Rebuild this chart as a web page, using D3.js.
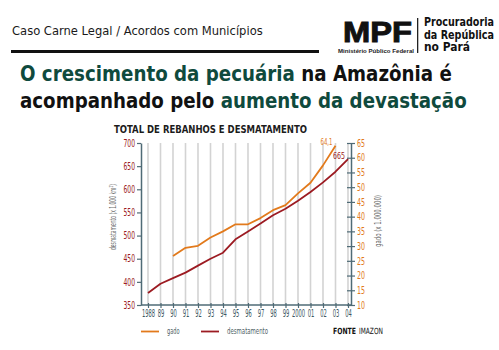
<!DOCTYPE html>
<html><head><meta charset="utf-8">
<script src="https://cdn.jsdelivr.net/npm/d3@7"></script>
<style>
html,body{margin:0;padding:0;background:#fff;}
svg{display:block;}
</style></head>
<body>
<script>
// ---- data ----
const years = [1988,1989,1990,1991,1992,1993,1994,1995,1996,1997,1998,1999,2000,2001,2002,2003,2004];
const yearLabels = ["1988","89","90","91","92","93","94","95","96","97","98","99","2000","01","02","03","04"];
const desmatamento = [376,396,408,420,435,450,463,492,509,526,544,558,575,594,615,638,665];
const gadoYears = [1990,1991,1992,1993,1994,1995,1996,1997,1998,1999,2000,2001,2002,2003];
const gado = [26.6,29.4,30.1,32.9,35.0,37.4,37.4,39.5,42.2,43.9,47.9,51.5,57.4,64.1];
const leftTicks = [350,400,450,500,550,600,650,700];
const rightTicks = [10,15,20,25,30,35,40,45,50,55,60,65];

const W = 499, H = 350;
const ORANGE = "#e27a1c", RED = "#9c1b22", AXIS = "#4f6b76", GREEN = "#0f4a3d";
const COND = "'Liberation Sans Narrow','DejaVu Sans Condensed','Liberation Sans',sans-serif";
const HUM = "'DejaVu Sans','Liberation Sans',sans-serif";
const ARIAL = "'Liberation Sans',Arial,sans-serif";

const svg = d3.select("body").append("svg").attr("width", W).attr("height", H);
svg.append("rect").attr("width", W).attr("height", H).attr("fill", "#fff");

function fitX(sel, x, y, width){ // scale a text horizontally to a target width
  const w = sel.node().getComputedTextLength();
  sel.attr("x", 0).attr("y", 0).attr("transform", `translate(${x},${y}) scale(${width / w},1)`);
  return sel;
}

// ---- header ----
const hdr = svg.append("text").attr("font-family", HUM).attr("font-size", 12).attr("fill", "#1a1a1a")
  .text("Caso Carne Legal / Acordos com Municípios");
fitX(hdr, 12, 35, 251);
svg.append("rect").attr("x", 11).attr("y", 50).attr("width", 308).attr("height", 3).attr("fill", "#111");

const mpf = svg.append("text").attr("font-family", ARIAL).attr("font-weight", "bold").attr("font-size", 30)
  .attr("fill", "#111").attr("stroke", "#111").attr("stroke-width", 1).text("MPF");
fitX(mpf, 343, 41.5, 69);
const mpf2 = svg.append("text").attr("font-family", ARIAL).attr("font-weight", "bold").attr("font-size", 5)
  .attr("fill", "#222").text("Ministério Público Federal");
fitX(mpf2, 338, 52.5, 76);
svg.append("rect").attr("x", 417).attr("y", 18).attr("width", 1.3).attr("height", 35).attr("fill", "#222");
[["Procuradoria", 26, 70], ["da República", 38.5, 70], ["no Pará", 50.5, 46]].forEach(([t, y, w]) => {
  const s = svg.append("text").attr("font-family", HUM).attr("font-weight", "bold").attr("font-size", 11.5)
    .attr("fill", "#111").text(t);
  fitX(s, 424, y, w);
});

// ---- title ----
const t1 = svg.append("text").attr("font-family", HUM).attr("font-weight", "bold").attr("font-size", 20.5);
t1.append("tspan").attr("fill", GREEN).text("O crescimento da pecuária");
t1.append("tspan").attr("fill", "#111").text(" na Amazônia é");
fitX(t1, 20, 81, 432);
const t2 = svg.append("text").attr("font-family", HUM).attr("font-weight", "bold").attr("font-size", 20.5);
t2.append("tspan").attr("fill", "#111").text("acompanhado pelo ");
t2.append("tspan").attr("fill", GREEN).text("aumento da devastação");
fitX(t2, 20, 108, 447);

// ---- chart ----
const x = d3.scaleLinear().domain([1988, 2004]).range([148, 348]);
const yL = d3.scaleLinear().domain([350, 700]).range([305, 143]);
const yR = d3.scaleLinear().domain([10, 65]).range([305, 143]);
const axL = x(1988) - 7, axR = x(2004) + 3;

svg.append("text").attr("font-family", COND).attr("font-weight", "bold").attr("font-size", 10.5)
  .attr("fill", "#1c1c1c").attr("x", 114).attr("y", 133).text("TOTAL DE REBANHOS E DESMATAMENTO")
  .attr("textLength", 193).attr("lengthAdjust", "spacingAndGlyphs");

// gridlines
svg.append("g").selectAll("line").data(years).join("line")
  .attr("x1", d => x(d)).attr("x2", d => x(d)).attr("y1", yL(700)).attr("y2", yL(350))
  .attr("stroke", "#d3d3d3").attr("stroke-width", 1.6);

// left axis
const gL = svg.append("g").attr("transform", `translate(${axL},0)`)
  .call(d3.axisLeft(yL).tickValues(leftTicks).tickSize(4).tickPadding(2).tickSizeOuter(0));
gL.select(".domain").attr("stroke", AXIS).attr("stroke-width", 1.5);
gL.selectAll(".tick line").attr("stroke", AXIS).attr("stroke-width", 1.2);
gL.selectAll(".tick text").attr("fill", RED).attr("font-family", COND).attr("font-size", 10)
  .attr("textLength", 11.5).attr("lengthAdjust", "spacingAndGlyphs");

// right axis
const gR = svg.append("g").attr("transform", `translate(${axR},0)`)
  .call(d3.axisRight(yR).tickValues(rightTicks).tickSize(4).tickPadding(2).tickSizeOuter(0));
gR.select(".domain").attr("stroke", AXIS).attr("stroke-width", 1.5);
gR.selectAll(".tick line").attr("x1", -4).attr("stroke", AXIS).attr("stroke-width", 1.2);
gR.selectAll(".tick text").attr("fill", ORANGE).attr("font-family", COND).attr("font-size", 10)
  .attr("textLength", 8).attr("lengthAdjust", "spacingAndGlyphs");

// bottom axis
const gB = svg.append("g").attr("transform", `translate(0,${yL(350)})`)
  .call(d3.axisBottom(x).tickValues(years).tickFormat((d, i) => yearLabels[i]).tickSize(3).tickPadding(2).tickSizeOuter(0));
gB.select(".domain").remove();
gB.append("line").attr("x1", axL).attr("x2", axR).attr("stroke", AXIS).attr("stroke-width", 1.5);
gB.selectAll(".tick line").attr("y1", -2).attr("stroke", AXIS).attr("stroke-width", 1.2);
gB.selectAll(".tick text").attr("fill", "#3d5762").attr("font-family", COND).attr("font-size", 10)
  .each(function(d, i){
    const w = this.getComputedTextLength();
    d3.select(this).attr("transform", `scale(${(yearLabels[i].length * 3.3) / w},1)`);
  });

// axis titles
svg.append("text").attr("font-family", COND).attr("font-size", 8.5).attr("fill", "#6a6a6a")
  .attr("text-anchor", "middle").attr("transform", "translate(116,217) rotate(-90)")
  .text("desmatamento (x 1.000 km²)").attr("textLength", 66).attr("lengthAdjust", "spacingAndGlyphs");
svg.append("text").attr("font-family", COND).attr("font-size", 8.5).attr("fill", "#6a6a6a")
  .attr("text-anchor", "middle").attr("transform", "translate(381,221) rotate(-90)")
  .text("gado (x 1.000.000)").attr("textLength", 52).attr("lengthAdjust", "spacingAndGlyphs");

// lines
svg.append("path").datum(desmatamento)
  .attr("d", d3.line().x((d, i) => x(years[i])).y(d => yL(d)))
  .attr("fill", "none").attr("stroke", RED).attr("stroke-width", 1.8).attr("stroke-linejoin", "round");
svg.append("path").datum(gado)
  .attr("d", d3.line().x((d, i) => x(gadoYears[i])).y(d => yR(d)))
  .attr("fill", "none").attr("stroke", ORANGE).attr("stroke-width", 1.8).attr("stroke-linejoin", "round");

// end labels
const lastG = gado.length - 1, lastD = desmatamento.length - 1;
svg.append("text").attr("font-family", COND).attr("font-size", 9.5).attr("fill", ORANGE)
  .attr("text-anchor", "end").attr("x", x(gadoYears[lastG]) - 3).attr("y", yR(gado[lastG]) - 1)
  .text(String(gado[lastG]).replace(".", ",")).attr("textLength", 12).attr("lengthAdjust", "spacingAndGlyphs");
svg.append("text").attr("font-family", COND).attr("font-size", 9.5).attr("fill", RED)
  .attr("text-anchor", "end").attr("x", x(years[lastD]) - 3).attr("y", yL(desmatamento[lastD]))
  .text(String(desmatamento[lastD])).attr("textLength", 12).attr("lengthAdjust", "spacingAndGlyphs");

// legend
const leg = [["gado", ORANGE, 141], ["desmatamento", RED, 201]];
leg.forEach(([name, col, lx]) => {
  svg.append("line").attr("x1", lx).attr("x2", lx + 18).attr("y1", 331.5).attr("y2", 331.5)
    .attr("stroke", col).attr("stroke-width", 1.8);
  svg.append("text").attr("font-family", COND).attr("font-size", 9).attr("fill", "#4f5f66")
    .attr("x", lx + 26).attr("y", 334).text(name)
    .attr("textLength", name === "gado" ? 12.5 : 41).attr("lengthAdjust", "spacingAndGlyphs");
});
const f1 = svg.append("text").attr("font-family", COND).attr("font-size", 8.5).attr("font-weight", "bold")
  .attr("fill", "#111").text("FONTE");
fitX(f1, 333, 334, 23);
const f2 = svg.append("text").attr("font-family", COND).attr("font-size", 8.5)
  .attr("fill", "#111").text("IMAZON");
fitX(f2, 359, 334, 24);
</script>
</body></html>
